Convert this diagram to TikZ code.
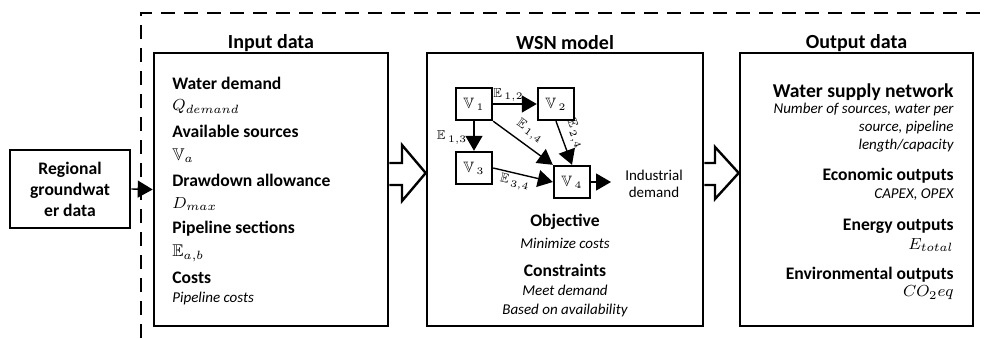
\documentclass[tikz,border=0pt]{standalone}
\usepackage{amsmath}
\usepackage{amssymb}
\usepackage{fontspec}
\setmainfont{Carlito}
\usetikzlibrary{positioning}
\usetikzlibrary{calc}
\usetikzlibrary{arrows.meta}

\tikzset{
    box/.style={draw, line width=1.3pt, inner sep=0pt},
    vtx/.style={draw, line width=1.2pt, minimum width=18pt, minimum height=16pt, inner sep=0pt, font=\fontsize{7.5}{9}\selectfont},
    edge/.style={line width=0.7pt, -{Triangle[length=7.5pt,width=8.5pt]}},
    elab/.style={font=\fontsize{6.5}{8}\selectfont, inner sep=1pt},
    ttl/.style={font=\fontsize{10}{12}\selectfont\bfseries, inner sep=0pt},
    hd/.style={font=\fontsize{8.8}{10.5}\selectfont\bfseries, inner sep=0pt},
    it/.style={font=\fontsize{7.5}{9}\selectfont\itshape, inner sep=0pt},
    mth/.style={font=\fontsize{8.5}{10}\selectfont, inner sep=0pt},
    blk/.style={draw, line width=1.2pt, fill=white, line join=miter},
}

\begin{document}
\begin{tikzpicture}[x=0.5pt, y=-0.5pt]
    \useasboundingbox (0,0) rectangle (987,338);

    % dashed system border
    \draw[line width=1.4pt, dash pattern=on 7pt off 4.5pt] (141,338) -- (141,13) -- (987,13);

    % source data
    \node[box, minimum width=60pt, minimum height=39pt, align=center, font=\fontsize{8.8}{10.5}\selectfont\bfseries] (reg) at (70,189) {Regional\\groundwat\\er data};

    % the three main blocks
    \node[box, minimum width=117pt, minimum height=136.5pt] (input) at (271,189.5) {};
    \node[box, minimum width=138pt, minimum height=136.5pt] (wsn) at (565,189.5) {};
    \node[box, minimum width=116.5pt, minimum height=136.5pt] (output) at (856.5,189.5) {};
    \node[ttl] (inputttl) at (271,43) {Input data};
    \node[ttl] (wsnttl) at (565,43) {WSN model};
    \node[ttl] (outputttl) at (856.5,43) {Output data};

    \draw[edge] (reg.east) -- (input.west);

    % block arrows between the stages
    \draw[blk] (input.east |- 0,163) -- (402,163) -- (402,145) -- (wsn.west |- 0,173)
        -- (402,201) -- (402,185) -- (input.east |- 0,185);
    \draw[blk] (wsn.east |- 0,163) -- (715,163) -- (715,147) -- (output.west |- 0,173)
        -- (715,199) -- (715,185) -- (wsn.east |- 0,185);

    % input data
    \foreach \i/\t in {0/Water demand, 1/Available sources, 2/Drawdown allowance, 3/Pipeline sections, 4/Costs}
        \node[hd, anchor=west] (inhd\i) at (172, {83+48.7*\i}) {\t};
    \foreach \i/\t in {0/{$Q_{demand}$}, 1/{$\mathbb{V}_a$}, 2/{$D_{max}$}, 3/{$\mathbb{E}_{a,b}$}}
        \node[mth, anchor=west] (indt\i) at (172, {107+48.7*\i}) {\t};
    \node[it, anchor=west] (indt4) at (172,298) {Pipeline costs};

    % network sketch
    \node[vtx] (v1) at (474,104) {$\mathbb{V}_{\,1}$};
    \node[vtx] (v2) at (556,104) {$\mathbb{V}_{\,2}$};
    \node[vtx] (v3) at (474,168) {$\mathbb{V}_{\,3}$};
    \node[vtx] (v4) at (572,182) {$\mathbb{V}_{\,4}$};
    \coordinate (dem) at (611,182);

    \draw[edge] (v1.east) -- node[elab, above, pos=0.35] {$\mathbb{E}_{\,1,2}$} (v2.west);
    \draw[edge] (v1.south) -- node[elab, left, xshift=-2pt, pos=0.55] {$\mathbb{E}_{\,1,3}$} (v3.north);
    \draw[edge] (v1.south east) -- node[elab, above, sloped, pos=0.48, inner sep=3pt] {$\mathbb{E}_{\,1,4}$} (v4.north west);
    \draw[edge] (v2.south) -- node[elab, above, sloped, pos=0.4, inner sep=3pt] {$\mathbb{E}_{\,2,4}$} (v4.north);
    \draw[edge] (v3.east) -- node[elab, below, sloped, pos=0.4] {$\mathbb{E}_{\,3,4}$} (v4.west);
    \draw[edge] (v4.east) -- (dem);
    \node[align=center, font=\fontsize{7.5}{8.5}\selectfont, inner sep=0pt] (demtxt) at (654,184) {Industrial\\demand};

    \node[hd] (obj) at (565,222) {Objective};
    \node[it] (objdt) at (565,243) {Minimize costs};
    \node[hd] (con) at (565,270) {Constraints};
    \node[it] (condt1) at (565,290) {Meet demand};
    \node[it] (condt2) at (565,310) {Based on availability};

    % output data
    \node[hd, anchor=east, font=\fontsize{9.8}{11}\selectfont\bfseries] (outhd0) at (954,92) {Water supply network};
    \node[it, anchor=east, align=right] (outdt0) at (954,128) {Number of sources, water per\\source, pipeline\\length/capacity};
    \node[hd, anchor=east] (outhd1) at (954,176) {Economic outputs};
    \node[it, anchor=east] (outdt1) at (954,195) {CAPEX, OPEX};
    \node[hd, anchor=east] (outhd2) at (954,226) {Energy outputs};
    \node[mth, anchor=east] (outdt2) at (954,245) {$E_{total}$};
    \node[hd, anchor=east] (outhd3) at (954,275) {Environmental outputs};
    \node[mth, anchor=east] (outdt3) at (954,293) {$CO_2eq$};
\end{tikzpicture}
\end{document}
